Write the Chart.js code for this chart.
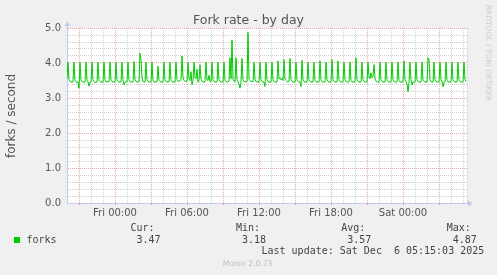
<!DOCTYPE html>
<html>
<head>
<meta charset="utf-8">
<script src="https://cdn.jsdelivr.net/npm/chart.js@4.4.1/dist/chart.umd.min.js"></script>
<style>
body { margin: 0; background: #f0f0f0; }
#wrap { position: relative; width: 497px; height: 275px; overflow: hidden; font-family: 'DejaVu Sans', sans-serif; color: #555; }
canvas { position: absolute; left: 0; top: 0; }
.t { position: absolute; white-space: pre; }
.mono { font-family: 'DejaVu Sans Mono', monospace; font-size: 10px; line-height: 10px; color: #444; }
</style>
</head>
<body>
<div id="wrap">
<canvas id="forkChart" width="497" height="275"></canvas>
<div class="t" style="left:0;width:497px;text-align:center;top:13.7px;font-size:12.5px;line-height:12.5px;color:#555;">Fork rate - by day</div>
<div class="t" style="left:-59.2px;top:109.5px;width:140px;height:12px;text-align:center;font-size:12px;line-height:12px;color:#555;transform:rotate(-90deg);">forks / second</div>
<div class="t" style="left:418.1px;top:49px;width:140px;height:8px;text-align:center;font-size:7.5px;line-height:8px;color:#cccccc;transform:rotate(90deg);">RRDTOOL / TOBI OETIKER</div>
<div id="legend"></div>
<div class="t" style="left:222.7px;top:260.1px;font-size:7.6px;line-height:8px;color:#bbbbbb;">Munin 2.0.73</div>
</div>
<script>
// ---------------------------------------------------------------- DATA ----------------------------------------------------------------
// fork rate, one sample every 5 minutes, starting Thu 20:00 (hours are relative to Fri 00:00)
const startHour = -4;
const stepHours = 5 / 60;
const forks = [
    3.55, 4.02, 3.52, 3.47, 3.46, 3.45,
    3.46, 4.02, 3.50, 3.46, 3.45, 3.46,
    3.28, 4.02, 3.52, 3.47, 3.46, 3.45,
    3.46, 4.02, 3.51, 3.46, 3.34, 3.45,
    3.46, 4.02, 3.52, 3.47, 3.45, 3.44,
    3.46, 4.02, 3.50, 3.47, 3.46, 3.45,
    3.45, 4.02, 3.52, 3.46, 3.46, 3.47,
    3.46, 4.02, 3.51, 3.47, 3.46, 3.45,
    3.46, 4.02, 3.52, 3.47, 3.45, 3.46,
    3.46, 4.02, 3.50, 3.38, 3.45, 3.46,
    3.46, 4.02, 3.52, 3.47, 3.46, 3.45,
    3.46, 4.04, 3.52, 3.47, 3.46, 3.45,
    3.47, 4.28, 4.10, 3.58, 3.47, 3.46,
    3.45, 4.02, 3.52, 3.47, 3.46, 3.45,
    3.46, 4.02, 3.50, 3.46, 3.45, 3.46,
    3.46, 3.91, 3.50, 3.47, 3.46, 3.45,
    3.46, 4.02, 3.52, 3.47, 3.46, 3.47,
    3.46, 4.02, 3.51, 3.47, 3.46, 3.45,
    3.46, 4.02, 3.52, 3.47, 3.48, 3.50,
    3.52, 4.20, 3.58, 3.50, 3.48, 3.47,
    3.48, 4.02, 3.55, 3.50, 3.75, 3.38,
    3.50, 4.02, 3.58, 3.55, 3.82, 3.45,
    3.52, 3.95, 3.55, 3.48, 3.46, 3.45,
    3.46, 4.02, 3.52, 3.50, 3.65, 3.47,
    3.46, 4.02, 3.52, 3.47, 3.46, 3.45,
    3.46, 4.02, 3.52, 3.47, 3.46, 3.45,
    3.46, 4.02, 3.51, 3.47, 3.46, 3.45,
    3.48, 4.15, 3.55, 4.66, 3.52, 3.48,
    3.46, 4.15, 3.52, 3.46, 3.40, 3.28,
    3.45, 4.13, 3.52, 3.47, 3.46, 3.46,
    3.47, 4.87, 3.55, 3.50, 3.48, 3.46,
    3.47, 4.02, 3.52, 3.47, 3.46, 3.45,
    3.46, 4.02, 3.52, 3.47, 3.46, 3.45,
    3.33, 4.02, 3.52, 3.47, 3.46, 3.45,
    3.46, 4.02, 3.51, 3.47, 3.46, 3.45,
    3.46, 4.06, 3.55, 3.57, 3.52, 3.56,
    3.50, 4.10, 3.55, 3.50, 3.47, 3.46,
    3.47, 4.13, 3.52, 3.47, 3.46, 3.45,
    3.46, 4.02, 3.51, 3.47, 3.46, 3.45,
    3.33, 4.08, 3.52, 3.47, 3.46, 3.45,
    3.46, 4.02, 3.52, 3.47, 3.46, 3.45,
    3.46, 4.02, 3.50, 3.46, 3.45, 3.46,
    3.46, 4.06, 3.52, 3.47, 3.46, 3.45,
    3.46, 4.02, 3.52, 3.47, 3.46, 3.45,
    3.46, 4.10, 3.52, 3.47, 3.46, 3.45,
    3.46, 4.06, 3.51, 3.47, 3.46, 3.45,
    3.46, 4.02, 3.52, 3.47, 3.46, 3.45,
    3.46, 4.02, 3.50, 3.46, 3.45, 3.46,
    3.46, 4.15, 3.52, 3.47, 3.46, 3.45,
    3.46, 4.02, 3.52, 3.47, 3.46, 3.45,
    3.46, 4.02, 3.60, 3.55, 3.72, 3.58,
    3.62, 3.95, 3.55, 3.48, 3.46, 3.45,
    3.46, 4.02, 3.52, 3.47, 3.46, 3.45,
    3.46, 4.02, 3.51, 3.47, 3.46, 3.45,
    3.46, 4.02, 3.52, 3.47, 3.46, 3.45,
    3.46, 4.02, 3.50, 3.46, 3.45, 3.46,
    3.46, 4.06, 3.52, 3.47, 3.40, 3.18,
    3.44, 4.02, 3.52, 3.38, 3.46, 3.45,
    3.46, 4.02, 3.52, 3.47, 3.46, 3.45,
    3.46, 4.02, 3.51, 3.47, 3.46, 3.45,
    3.46, 4.15, 4.08, 3.52, 3.47, 3.46,
    3.45, 4.02, 3.52, 3.47, 3.46, 3.45,
    3.46, 4.02, 3.52, 3.47, 3.32, 3.45,
    3.46, 4.02, 3.50, 3.46, 3.45, 3.46,
    3.46, 4.02, 3.52, 3.47, 3.46, 3.45,
    3.46, 4.02, 3.51, 3.47, 3.46, 3.45,
    3.46, 4.02, 3.52, 3.47
];

const tickHours = [0, 6, 12, 18, 24];
const tickLabels = ['Fri 00:00', 'Fri 06:00', 'Fri 12:00', 'Fri 18:00', 'Sat 00:00'];
const yLabels = ['0.0', '1.0', '2.0', '3.0', '4.0', '5.0'];

const statNames = ['Cur:', 'Min:', 'Avg:', 'Max:'];
const statValues = ['3.47', '3.18', '3.57', '4.87'];
const seriesName = 'forks';
const lastUpdate = 'Last update: Sat Dec  6 05:15:03 2025';

// ---------------------------------------------------------------- LEGEND ----------------------------------------------------------------
let legendHtml = '<div class="t" style="left:14px;top:237px;width:6px;height:6px;background:#00cc00;"></div>';
legendHtml += '<div class="t mono" style="left:26.5px;top:234.5px;">' + seriesName + '</div>';
statNames.forEach((name, i) => {
    const left = 130.5 + i * 105.4;
    legendHtml += '<div class="t mono" style="left:' + left + 'px;top:222.9px;">' + name + '</div>';
    legendHtml += '<div class="t mono" style="left:' + (left + 6) + 'px;top:234.5px;">' + statValues[i] + '</div>';
});
legendHtml += '<div class="t mono" style="left:261.5px;top:246.2px;">' + lastUpdate + '</div>';
document.getElementById('legend').innerHTML = legendHtml;

// ---------------------------------------------------------------- CHART ----------------------------------------------------------------
const axisColor = '#c4c8f0';
const majorGrid = '#eba8a8';
const minorGrid = '#d0d0d0';
const xMax = startHour + forks.length * stepHours;

const points = forks.map((v, i) => ({x: startHour + i * stepHours, y: v}));

const muninFrame = {
    id: 'muninFrame',
    beforeDraw(chart) {
        const {ctx, chartArea: a} = chart;
        ctx.save();
        ctx.fillStyle = '#ffffff';
        ctx.fillRect(a.left, a.top, a.right - a.left, a.bottom - a.top);
        ctx.restore();
    },
    afterDraw(chart) {
        const {ctx, chartArea: a} = chart;
        ctx.save();
        ctx.strokeStyle = axisColor;
        ctx.lineWidth = 1;
        ctx.beginPath();
        ctx.moveTo(a.left + 0.5, a.top);
        ctx.lineTo(a.left + 0.5, a.top - 2);
        ctx.moveTo(a.right, a.bottom + 0.5);
        ctx.lineTo(a.right + 2, a.bottom + 0.5);
        ctx.stroke();
        ctx.fillStyle = axisColor;
        ctx.beginPath();
        ctx.moveTo(a.left - 2.5, a.top - 2);
        ctx.lineTo(a.left + 3.5, a.top - 2);
        ctx.lineTo(a.left + 0.5, a.top - 6.5);
        ctx.closePath();
        ctx.fill();
        ctx.beginPath();
        ctx.moveTo(a.right + 1, a.bottom - 2.5);
        ctx.lineTo(a.right + 1, a.bottom + 3.5);
        ctx.lineTo(a.right + 6, a.bottom + 0.5);
        ctx.closePath();
        ctx.fill();
        ctx.restore();
    }
};

const ctx = document.getElementById('forkChart').getContext('2d');
const forkChart = new Chart(ctx, {
    type: 'line',
    data: {
        datasets: [{
            label: seriesName,
            data: points,
            borderColor: '#00cc00',
            borderWidth: 1,
            pointRadius: 0,
            tension: 0,
            fill: false
        }]
    },
    options: {
        responsive: false,
        animation: false,
        layout: {
            padding: {left: 0, top: 28, right: 30, bottom: 0}
        },
        scales: {
            x: {
                type: 'linear',
                min: startHour,
                max: xMax,
                afterBuildTicks: (scale) => {
                    const ticks = [];
                    for (let h = startHour; h < xMax; h++) ticks.push({value: h});
                    ticks.push({value: xMax});
                    scale.ticks = ticks;
                },
                afterFit: (scale) => { scale.height = 72; },
                ticks: {
                    autoSkip: false,
                    maxRotation: 0,
                    minRotation: 0,
                    padding: 2,
                    color: '#555',
                    font: {family: 'DejaVu Sans', size: 10},
                    callback: (value) => {
                        const idx = tickHours.indexOf(value);
                        return idx >= 0 ? tickLabels[idx] : '';
                    }
                },
                grid: {
                    color: (c) => (c.tick && Number.isInteger(c.tick.value) && c.tick.value % 3 === 0) ? majorGrid : minorGrid,
                    tickColor: (c) => (c.tick && Number.isInteger(c.tick.value) && c.tick.value % 3 === 0) ? '#e08080' : 'rgba(0,0,0,0)',
                    tickLength: 2,
                    lineWidth: 1
                },
                border: {
                    display: true,
                    color: axisColor,
                    dash: [1, 1]
                }
            },
            y: {
                min: 0,
                max: 5,
                afterBuildTicks: (scale) => {
                    const ticks = [];
                    for (let n = 0; n <= 25; n++) ticks.push({value: n / 5});
                    scale.ticks = ticks;
                },
                afterFit: (scale) => { scale.width = 67; },
                ticks: {
                    autoSkip: false,
                    padding: 6,
                    color: '#555',
                    font: {family: 'DejaVu Sans', size: 10},
                    callback: (value) => (Math.abs(value - Math.round(value)) < 1e-6) ? yLabels[Math.round(value)] : ''
                },
                grid: {
                    color: (c) => (c.tick && Math.abs(c.tick.value - Math.round(c.tick.value)) < 1e-6) ? majorGrid : minorGrid,
                    drawTicks: false,
                    lineWidth: 1
                },
                border: {
                    display: true,
                    color: axisColor,
                    dash: [1, 1]
                }
            }
        },
        plugins: {
            legend: {display: false},
            title: {display: false},
            tooltip: {enabled: false}
        }
    },
    plugins: [muninFrame]
});
</script>
</body>
</html>
